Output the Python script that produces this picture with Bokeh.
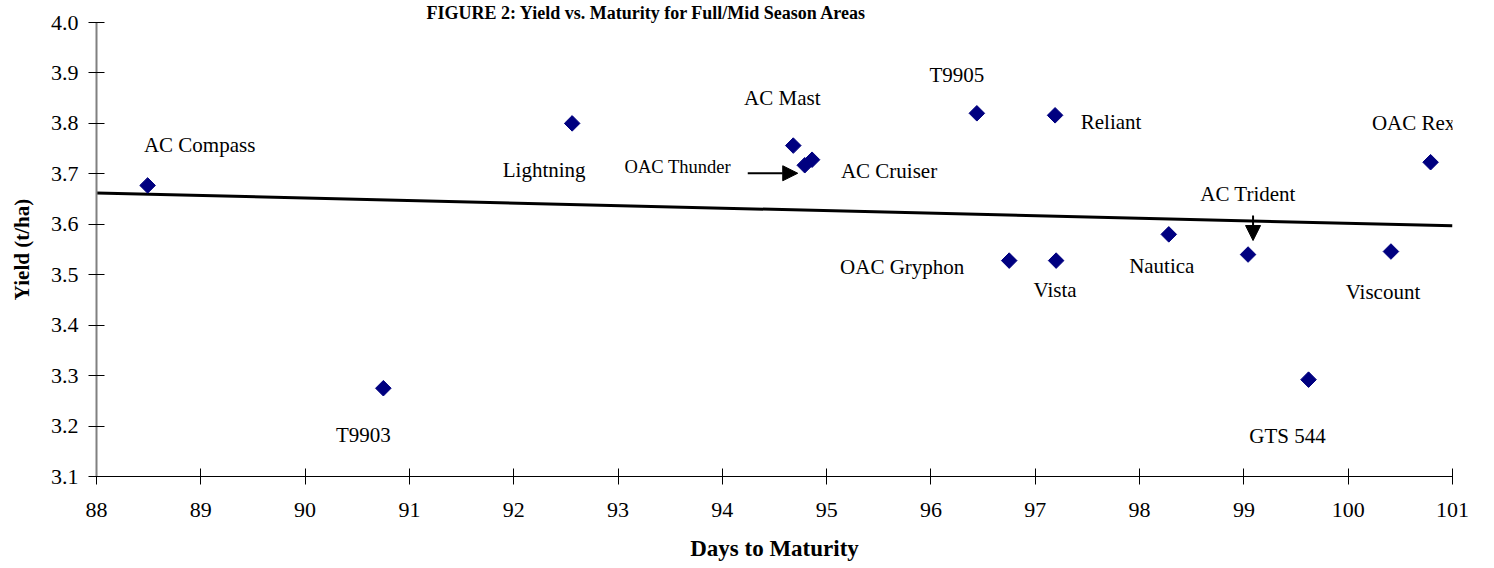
import numpy as np
from bokeh.plotting import figure
from bokeh.models import (Range1d, FixedTicker, NumeralTickFormatter, LabelSet,
                          Arrow, NormalHead, ColumnDataSource)
from bokeh.embed import file_html
from bokeh.resources import INLINE

# ---- data ----
varieties = ["AC Compass", "T9903", "Lightning", "AC Mast", "OAC Thunder", "AC Cruiser",
             "T9905", "Reliant", "OAC Gryphon", "Vista", "Nautica", "AC Trident",
             "GTS 544", "Viscount", "OAC Rex"]
days = [88.49, 90.75, 92.56, 94.68, 94.79, 94.86, 96.44, 97.19, 96.75, 97.20,
        98.28, 99.04, 99.62, 100.41, 100.79]
yields = [3.677, 3.275, 3.800, 3.756, 3.717, 3.728, 3.820, 3.816, 3.528, 3.528,
          3.580, 3.540, 3.292, 3.546, 3.723]
trend_days = [88, 101]
trend_yield = [3.662, 3.597]
x_ticks = list(range(88, 102))
y_ticks = [3.1, 3.2, 3.3, 3.4, 3.5, 3.6, 3.7, 3.8, 3.9, 4.0]
title_text = "FIGURE 2:  Yield vs. Maturity for Full/Mid Season Areas"

# ---- layout / style ----
FONT = "Liberation Serif"
X0, X1, Y0, Y1 = 88, 101, 3.1, 4.0
FW, FH = 1356, 454
PXX = FW / (X1 - X0)
PXY = FH / (Y1 - Y0)

# label offsets in px (dx right, dy downward)
label_dx = [52, -20, -28, -11, -127, 77, -20, 56, -107, -1, -7, 0, -21, -8, -17]
label_dy = [-40, 47, 47, -48, 2, 11, -38, 7, 6, 29, 32, -61, 56, 40, -39]
label_size = ["21px"] * len(varieties)
label_size[4] = "18.5px"

p = figure(frame_width=FW, frame_height=FH, output_backend="svg", toolbar_location=None,
           x_range=Range1d(X0, X1), y_range=Range1d(Y0, Y1),
           min_border_left=96, min_border_top=20, min_border_right=26, min_border_bottom=78)
p.outline_line_color = None
p.xgrid.visible = False
p.ygrid.visible = False
p.background_fill_color = "white"
p.border_fill_color = "white"

p.title.text = title_text
p.title.text_font = FONT
p.title.text_font_style = "bold"
p.title.text_font_size = "18px"
p.title.text_color = "black"
p.title.align = "left"
p.title.offset = 330
p.title.standoff = 0
p.title.text_line_height = 1.0

for ax in (p.xaxis[0], p.yaxis[0]):
    ax.major_label_text_font = FONT
    ax.major_label_text_font_size = "22px"
    ax.major_label_text_font_style = "normal"
    ax.major_label_text_color = "black"
    ax.axis_label_text_font = FONT
    ax.axis_label_text_font_style = "bold"
    ax.axis_label_text_color = "black"
    ax.major_tick_in = 8
    ax.major_tick_out = 8
    ax.major_tick_line_color = "black"
    ax.minor_tick_line_color = None
    ax.major_tick_line_width = 1

p.xaxis.ticker = FixedTicker(ticks=x_ticks)
p.yaxis.ticker = FixedTicker(ticks=y_ticks)
p.yaxis.formatter = NumeralTickFormatter(format="0.0")
p.xaxis.axis_label = "Days to Maturity"
p.yaxis.axis_label = "Yield (t/ha)"
p.xaxis.axis_label_text_font_size = "23px"
p.yaxis.axis_label_text_font_size = "21px"
p.xaxis.axis_line_color = "black"
p.yaxis.axis_line_color = "#808080"
p.yaxis.axis_line_width = 2
p.xaxis.major_label_standoff = 18
p.yaxis.major_label_standoff = 10
p.xaxis.axis_label_standoff = 16
p.yaxis.axis_label_standoff = 14

# trend line
p.line(trend_days, trend_yield, line_color="black", line_width=3)

src = ColumnDataSource(dict(x=days, y=yields, name=varieties,
                            dx=label_dx, dy=[-d for d in label_dy], fs=label_size))
p.scatter("x", "y", source=src, marker="square", angle=np.pi / 4, size=11,
          fill_color="#000080", line_color="#000080")
p.add_layout(LabelSet(x="x", y="y", text="name", source=src, x_offset="dx", y_offset="dy",
                      text_align="center", text_baseline="middle", text_font=FONT,
                      text_font_size="fs", text_color="black", level="overlay"))

# arrows pointing at OAC Thunder and AC Trident
def px_to_data(i, dx, dy):
    return days[i] + dx / PXX, yields[i] - dy / PXY

i_th = varieties.index("OAC Thunder")
sx, sy = px_to_data(i_th, -57, 8)
ex, ey = px_to_data(i_th, -7, 8)
p.add_layout(Arrow(end=NormalHead(size=15, fill_color="black", line_color="black"),
                   x_start=sx, y_start=sy, x_end=ex, y_end=ey,
                   line_color="black", line_width=2))
i_tr = varieties.index("AC Trident")
sx, sy = px_to_data(i_tr, 5, -39)
ex, ey = px_to_data(i_tr, 5, -14)
p.add_layout(Arrow(end=NormalHead(size=15, fill_color="black", line_color="black"),
                   x_start=sx, y_start=sy, x_end=ex, y_end=ey,
                   line_color="black", line_width=2))

open("out.html", "w").write(file_html(p, INLINE))
